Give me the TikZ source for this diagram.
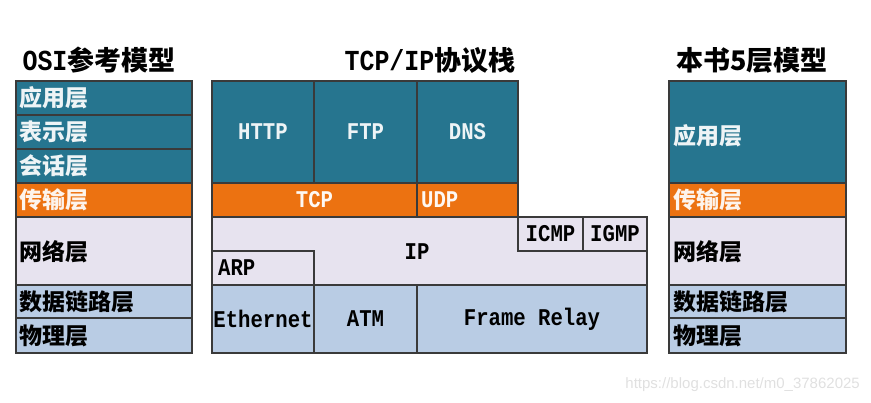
\documentclass[tikz,border=0pt]{standalone}
\usepackage{fontspec}
\newfontfamily\cjk{Noto Sans CJK SC}
\newfontfamily\mono[FakeStretch=0.86]{Liberation Mono}
\newfontfamily\wmfont{Liberation Sans}
\definecolor{teal1}{HTML}{26758F}
\definecolor{orange1}{HTML}{EC7211}
\definecolor{lav}{HTML}{E7E3EF}
\definecolor{lblue}{HTML}{B9CCE4}
\definecolor{edge}{HTML}{3A3A3A}
\tikzset{
  boxbase/.style={draw=edge, line width=1.3pt, inner sep=0pt, outer sep=0pt},
  tealbox/.style={boxbase, fill=teal1},
  orbox/.style={boxbase, fill=orange1},
  lavbox/.style={boxbase, fill=lav},
  bluebox/.style={boxbase, fill=lblue},
  cjklab/.style={font=\cjk\bfseries\fontsize{23}{25}\selectfont, inner sep=0pt, anchor=west},
  monolab/.style={font=\mono\bfseries\fontsize{24}{26}\selectfont, inner sep=0pt},
  titlelab/.style={font=\cjk\bfseries\fontsize{27}{29}\selectfont, inner sep=0pt},
  lightlab/.style={text=white},
  darklab/.style={text=black}
}
% name, x1, y1, x2, y2, style
\newcommand\bx[6]{\node[#6, minimum width={(#4-#2)*1pt}, minimum height={(#5-#3)*1pt}] (#1) at ({(#2+#4)/2},{(#3+#5)/2}) {};}
\begin{document}
\begin{tikzpicture}[x=1pt,y=-1pt]
\useasboundingbox (0,0) rectangle (871,403);
% titles
\node[titlelab] (t1) at (99,60) {{\mono\fontsize{29}{29}\selectfont OSI}参考模型};
\node[titlelab] (t2) at (430,60) {{\mono\fontsize{29}{29}\selectfont TCP/IP}协议栈};
\node[titlelab] (t3) at (752,60) {本书5层模型};
% OSI column
\bx{o1}{16}{81}{192}{115}{tealbox}
\bx{o2}{16}{115}{192}{149}{tealbox}
\bx{o3}{16}{149}{192}{183}{tealbox}
\bx{o4}{16}{183}{192}{217}{orbox}
\bx{o5}{16}{217}{192}{285}{lavbox}
\bx{o6}{16}{285}{192}{318}{bluebox}
\bx{o7}{16}{318}{192}{353}{bluebox}
\node[cjklab, text=white!92!teal1] (lo1) at (19,98) {应用层};
\node[cjklab, text=white!92!teal1] (lo2) at (19,132) {表示层};
\node[cjklab, text=white!92!teal1] (lo3) at (19,166) {会话层};
\node[cjklab, text=white!92!orange1] (lo4) at (19,200) {传输层};
\node[cjklab, darklab] (lo5) at (19,252) {网络层};
\node[cjklab, darklab] (lo6) at (19,302) {数据链路层};
\node[cjklab, darklab] (lo7) at (19,336) {物理层};
% TCP/IP stack
\bx{http}{212}{81}{314}{183}{tealbox}
\bx{ftp}{314}{81}{417}{183}{tealbox}
\bx{dns}{417}{81}{518}{183}{tealbox}
\bx{tcp}{212}{183}{417}{217}{orbox}
\bx{udp}{417}{183}{518}{217}{orbox}
\bx{ip}{212}{217}{647}{285}{lavbox}
\bx{icmp}{518}{217}{583}{251}{lavbox}
\bx{igmp}{583}{217}{647}{251}{lavbox}
\bx{arp}{212}{251}{314}{285}{lavbox}
\bx{eth}{212}{285}{314}{353}{bluebox}
\bx{atm}{314}{285}{417}{353}{bluebox}
\bx{fr}{417}{285}{647}{353}{bluebox}
\node[monolab, text=white!92!teal1] (lhttp) at (http) {HTTP};
\node[monolab, text=white!92!teal1] (lftp) at (ftp) {FTP};
\node[monolab, text=white!92!teal1] (ldns) at (dns) {DNS};
\node[monolab, text=white!95!orange1] (ltcp) at (tcp) {TCP};
\node[monolab, text=white!95!orange1, anchor=west] (ludp) at (421,200) {UDP};
\node[monolab, darklab] (lip) at (417,252) {IP};
\node[monolab, darklab] (licmp) at (icmp) {ICMP};
\node[monolab, darklab] (ligmp) at (igmp) {IGMP};
\node[monolab, darklab, anchor=west] (larp) at (218,268) {ARP};
\node[monolab, darklab] (leth) at (eth) {Ethernet};
\node[monolab, darklab] (latm) at (atm) {ATM};
\node[monolab, darklab] (lfr) at (fr) {Frame Relay};
% 5-layer model
\bx{f1}{669}{81}{846}{183}{tealbox}
\bx{f2}{669}{183}{846}{217}{orbox}
\bx{f3}{669}{217}{846}{285}{lavbox}
\bx{f4}{669}{285}{846}{318}{bluebox}
\bx{f5}{669}{318}{846}{353}{bluebox}
\node[cjklab, text=white!92!teal1] (lf1) at (673,136) {应用层};
\node[cjklab, text=white!92!orange1] (lf2) at (673,200) {传输层};
\node[cjklab, darklab] (lf3) at (673,252) {网络层};
\node[cjklab, darklab] (lf4) at (673,302) {数据链路层};
\node[cjklab, darklab] (lf5) at (673,336) {物理层};
% watermark
\node[font=\wmfont\fontsize{15}{17}\selectfont, text=black!12, inner sep=0pt, anchor=east] (wm) at (860,385) {https://blog.csdn.net/m0\_37862025};
\end{tikzpicture}
\end{document}
